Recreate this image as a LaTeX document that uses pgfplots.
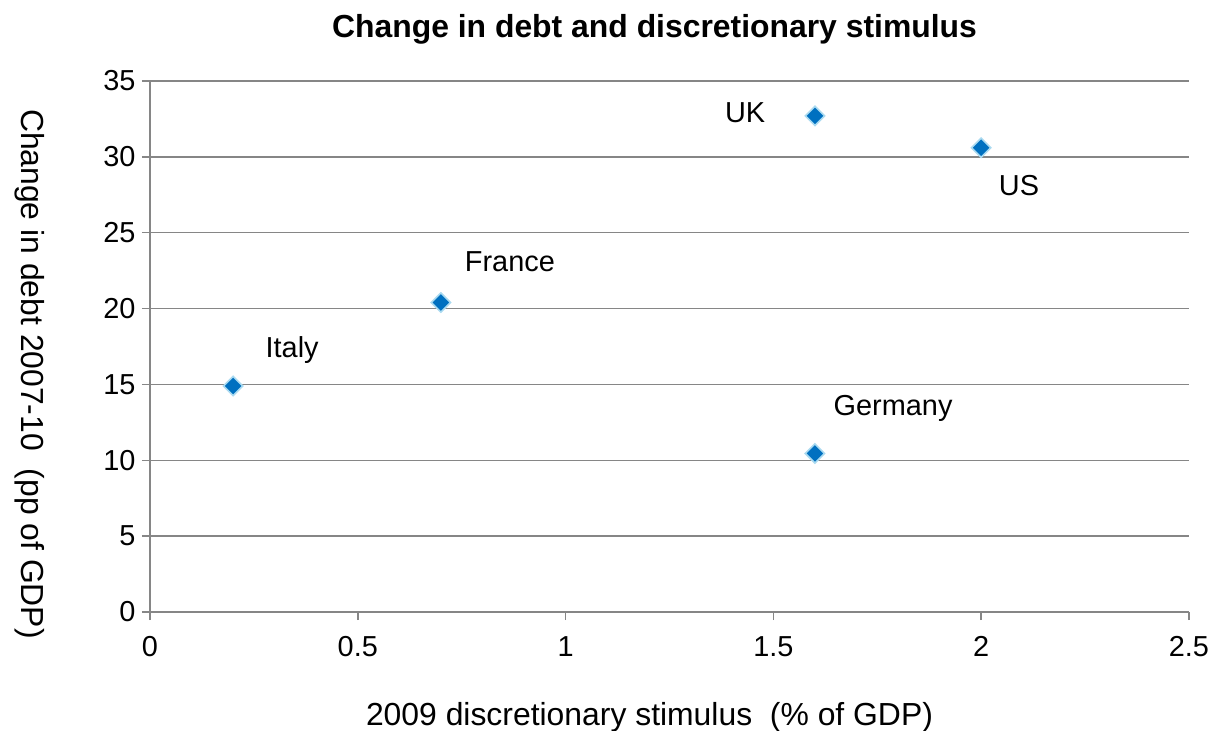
\documentclass[border=0pt]{standalone}
\usepackage{fontspec}
\setmainfont{Liberation Sans}
\usepackage{pgfplots}
\pgfplotsset{compat=1.18}
\definecolor{gridgray}{RGB}{134,134,134}
\definecolor{mblue}{RGB}{0,112,192}
\definecolor{medge}{RGB}{170,218,240}
\begin{document}
\begin{tikzpicture}
\begin{axis}[
  scale only axis, width=1039bp, height=531bp,
  xmin=0, xmax=2.5, ymin=0, ymax=35,
  xtick={0,0.5,1,1.5,2,2.5},
  ytick={0,5,10,15,20,25,30,35},
  xticklabels={0,0.5,1,1.5,2,2.5},
  axis x line*=bottom, axis y line*=left,
  axis line style={gridgray, line width=1.5bp},
  ymajorgrids, major grid style={gridgray, line width=1.5bp},
  tick align=outside, major tick length=8bp,
  tick style={gridgray, line width=1.5bp},
  /pgf/number format/assume math mode=true,
  ticklabel style={font=\fontsize{29}{34}\selectfont},
  yticklabel style={xshift=-3bp},
  xticklabel style={yshift=-13bp},
  clip=false,
]
\addplot[only marks, mark=square*, mark size=6.8bp,
  mark options={rotate=45, fill=mblue, draw=medge, line width=1.6bp}]
  coordinates {(0.2,14.9) (0.7,20.4) (1.6,32.7) (2.0,30.6) (1.6,10.45)};
\coordinate (o) at (rel axis cs:0,0);
\begin{scope}[font=\fontsize{29}{34}\selectfont]
\node at (axis cs:0.342,17.3) {Italy};
\node at (axis cs:0.866,23.1) {France};
\node at (axis cs:1.432,32.9) {UK};
\node at (axis cs:2.091,28.1) {US};
\node at (axis cs:1.788,13.4) {Germany};
\end{scope}
\end{axis}
\node[font=\bfseries\fontsize{32}{38}\selectfont] at ([xshift=504.5bp,yshift=583bp]o) {Change in debt and discretionary stimulus};
\node[font=\fontsize{32}{38}\selectfont] at ([xshift=499.5bp,yshift=-105bp]o) {2009 discretionary stimulus\ \ (\% of GDP)};
\node[font=\fontsize{32}{38}\selectfont, rotate=-90] at ([xshift=-120bp,yshift=238bp]o) {Change in debt 2007-10\ \ (pp of GDP)};
\pgfresetboundingbox
\path[use as bounding box] ([xshift=-150bp,yshift=-119bp]o) rectangle ([xshift=1064bp,yshift=612bp]o);
\end{tikzpicture}
\end{document}
